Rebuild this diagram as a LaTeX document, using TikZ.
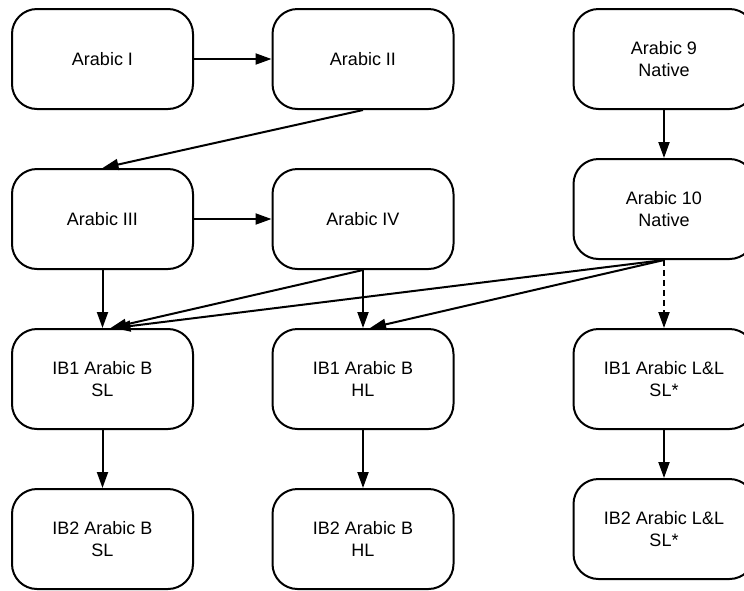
\documentclass[tikz,border=0pt]{standalone}
\usepackage{fontspec}
\setmainfont{Liberation Sans}
\usetikzlibrary{arrows.meta, positioning}

\begin{document}
\begin{tikzpicture}[node distance=80pt, on grid, >={Triangle[length=8pt,width=5.5pt]},
    course/.style={draw, line width=1pt, rectangle, rounded corners=12.5pt,
      minimum width=90.5pt, minimum height=50pt, align=center,
      font=\fontsize{9}{11}\selectfont}]
            \useasboundingbox (0,0) rectangle (372pt,-295pt);
            \node [course] (a_1) at (51.25pt,-29.5pt) {Arabic I};
            \node [course] [right =130.25pt of a_1] (a_2) {Arabic II};
            \node [course] [below =of a_1] (a_3) {Arabic III};
            \node [course] [right =130.25pt of a_3] (a_4) {Arabic IV};
            \node [course] [below =of a_3] (sl_1) {IB1 Arabic B\\SL};
            \node [course] [below =of a_4] (hl_1) {IB1 Arabic B\\HL};
            \node [course] [below =of sl_1] (sl_2) {IB2 Arabic B\\SL};
            \node [course] [below =of hl_1] (hl_2) {IB2 Arabic B\\HL};
            \node [course] [right =150.5pt of a_2] (n_9) {Arabic 9\\Native};
            \node [course] [below =75pt of n_9] (n_10) {Arabic 10\\Native};
            \node [course] [below =85pt of n_10] (ll_1) {IB1 Arabic L\&L\\SL*};
            \node [course] [below =75pt of ll_1] (ll_2) {IB2 Arabic L\&L\\SL*};
            \path[->, line width=1pt]
            	(a_1) edge (a_2)
            	(a_2.south) edge (a_3.north)
            	(a_3) edge (a_4)
            	(a_3) edge (sl_1)
            	(a_4.south) edge ([xshift=4pt]sl_1.north)
            	(a_4) edge (hl_1)
            	(n_9) edge (n_10)
            	(n_10.south) edge ([xshift=6pt]sl_1.north)
            	(n_10.south) edge ([xshift=3.5pt]hl_1.north)
            	(n_10) edge [dash pattern=on 3pt off 2pt] (ll_1)
            	(sl_1) edge (sl_2)
            	(hl_1) edge (hl_2)
            	(ll_1) edge (ll_2);
            \end{tikzpicture}
\end{document}
